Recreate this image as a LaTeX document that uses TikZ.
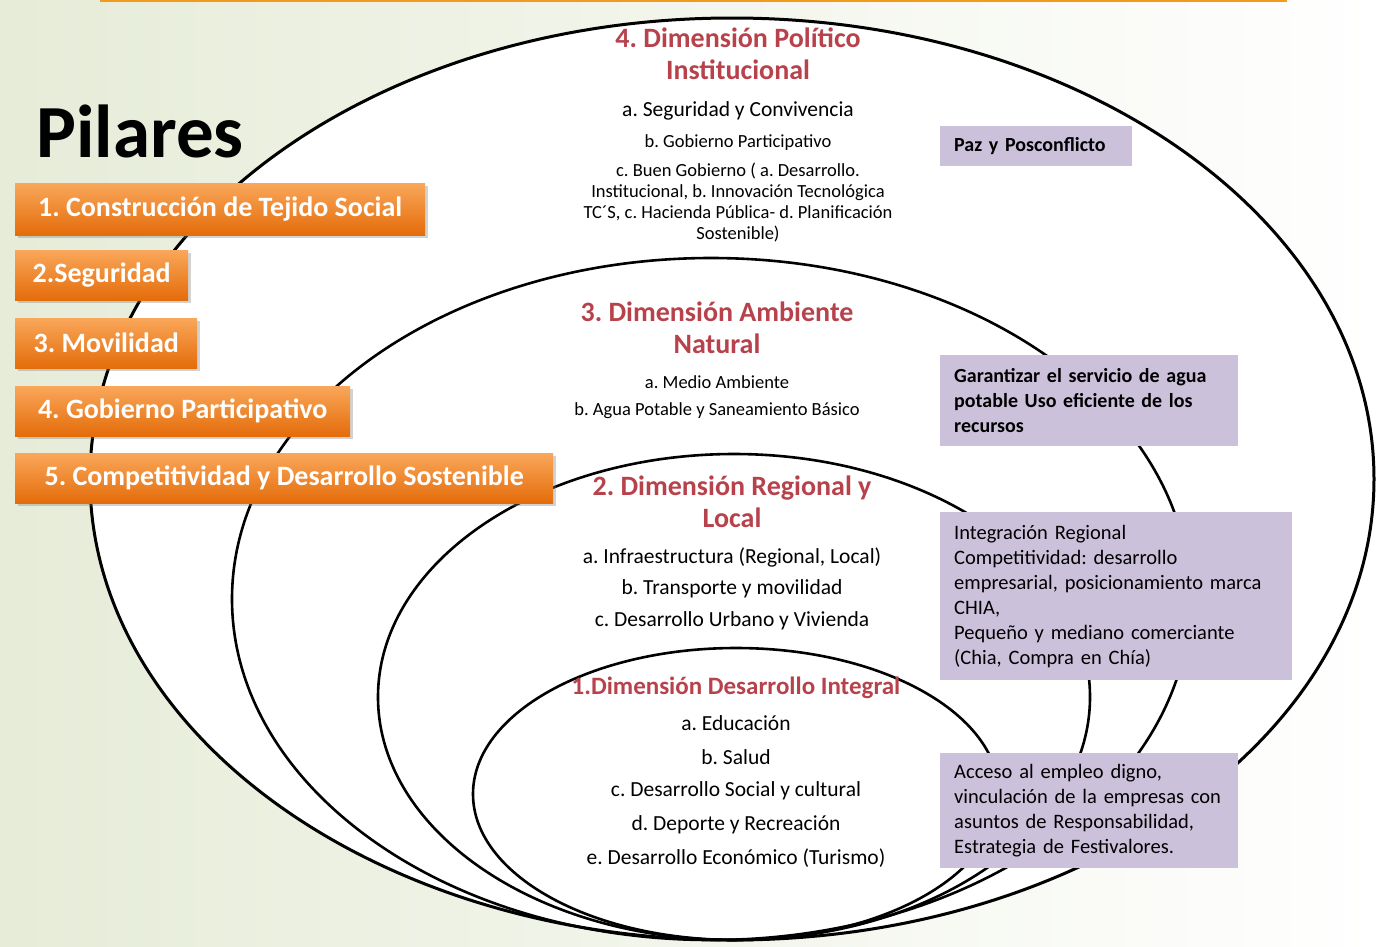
\documentclass[tikz,border=0pt]{standalone}
\usepackage{fontspec}
\setmainfont{Carlito}
\usetikzlibrary{shadows}
\definecolor{pilarTop}{HTML}{F9A75A}
\definecolor{pilarBot}{HTML}{E46C0A}
\definecolor{dimRed}{HTML}{B8424C}
\definecolor{lila}{HTML}{CCC1DA}
\definecolor{fondo}{HTML}{E6ECD8}
\definecolor{raya}{HTML}{F39A1E}
\frenchspacing

\begin{document}
\begin{tikzpicture}[x=1pt, y=-1pt,
    pilar/.style={anchor=west, rectangle, top color=pilarTop, bottom color=pilarBot,
      text=white, font=\fontsize{28}{32}\selectfont\bfseries, inner sep=0pt, minimum height=50pt,
      drop shadow={opacity=0.35, shadow xshift=3pt, shadow yshift=-3pt}},
    dimtitle/.style={align=center, text=dimRed, font=\fontsize{28}{32}\selectfont\bfseries},
    item/.style={align=center, font=\fontsize{21.5}{23}\selectfont},
    smallitem/.style={align=center, font=\fontsize{18.5}{21}\selectfont},
    lilabox/.style={anchor=north west, rectangle, fill=lila, inner xsep=14pt, inner ysep=6pt,
      align=left, font=\fontsize{20.5}{25}\selectfont},
    ring/.style={line width=2.6pt, black}]

  \useasboundingbox (0,0) rectangle (1379,946);
  \fill[left color=fondo, right color=white] (0,0) rectangle (1379,946);
  \draw[raya, line width=2pt] (100,1) -- (1287,1);

  % rings, outer first
  \fill[white] (732,479) ellipse [x radius=642pt, y radius=461pt];
  \draw[ring, line width=3pt] (732,479) ellipse [x radius=642pt, y radius=461pt];
  \draw[ring] (711,599) ellipse [x radius=479pt, y radius=341pt];
  \draw[ring] (734,697) ellipse [x radius=356pt, y radius=243pt];
  \draw[ring] (736,794) ellipse [x radius=263pt, y radius=146pt];

  \node[anchor=west, font=\fontsize{75}{80}\selectfont\bfseries] at (33,131) (pilares) {Pilares};

  % 4. politico institucional
  \node[dimtitle] at (738,54) (dim4) {4. Dimensión Político\\Institucional};
  \node[item] at (738,111) (dim4a) {a. Seguridad y Convivencia};
  \node[smallitem] at (738,143) (dim4b) {b. Gobierno Participativo};
  \node[smallitem] at (738,203) (dim4c) {c. Buen Gobierno ( a. Desarrollo.\\Institucional, b. Innovación Tecnológica\\TC´S, c. Hacienda Pública- d. Planificación\\Sostenible)};

  % 3. ambiente natural
  \node[dimtitle] at (717,328) (dim3) {3. Dimensión Ambiente\\Natural};
  \node[smallitem] at (717,382) (dim3a) {a. Medio Ambiente};
  \node[smallitem] at (717,411) (dim3b) {b. Agua Potable y Saneamiento Básico};

  % 2. regional y local
  \node[dimtitle] at (732,502) (dim2) {2. Dimensión Regional y\\Local};
  \node[item] at (732,557) (dim2a) {a. Infraestructura (Regional, Local)};
  \node[item] at (732,589) (dim2b) {b. Transporte y movilidad};
  \node[item] at (732,621) (dim2c) {c. Desarrollo Urbano y Vivienda};

  % 1. desarrollo integral
  \node[dimtitle, font=\fontsize{25}{28}\selectfont\bfseries] at (736,688) (dim1) {1.Dimensión Desarrollo Integral};
  \node[item] at (736,723) (dim1a) {a. Educación};
  \node[item] at (736,757) (dim1b) {b. Salud};
  \node[item] at (736,791) (dim1c) {c. Desarrollo Social y cultural};
  \node[item] at (736,825) (dim1d) {d. Deporte y Recreación};
  \node[item] at (736,858) (dim1e) {e. Desarrollo Económico (Turismo)};

  % pilares
  \node[pilar, minimum width=410pt, minimum height=52pt] at (15,209) (p1) {1. Construcción de Tejido Social};
  \node[pilar, minimum width=173pt] at (15,275) (p2) {2.Seguridad};
  \node[pilar, minimum width=182pt] at (15,343) (p3) {3. Movilidad};
  \node[pilar, minimum width=335pt] at (15,411) (p4) {4. Gobierno Participativo};
  \node[pilar, minimum width=538pt] at (15,478) (p5) {5. Competitividad y Desarrollo Sostenible};

  % recuadros lila
  \node[lilabox, font=\fontsize{20}{25}\selectfont\bfseries, minimum width=192pt, minimum height=40pt, text width=164pt] at (940,126) (paz) {Paz y Posconflicto};
  \node[lilabox, font=\fontsize{20}{25}\selectfont\bfseries, minimum width=298pt, minimum height=91pt, text width=270pt] at (940,355) (agua) {Garantizar el servicio de agua\\potable Uso eficiente de los\\recursos};
  \node[lilabox, minimum width=352pt, minimum height=168pt, text width=324pt] at (940,512) (integra) {Integración Regional\\Competitividad: desarrollo\\empresarial, posicionamiento marca\\CHIA,\\Pequeño y mediano comerciante\\(Chia, Compra en Chía)};
  \node[lilabox, minimum width=298pt, minimum height=115pt, text width=270pt] at (940,753) (empleo) {Acceso al empleo digno,\\vinculación de la empresas con\\asuntos de Responsabilidad,\\Estrategia de Festivalores.};
\end{tikzpicture}
\end{document}
